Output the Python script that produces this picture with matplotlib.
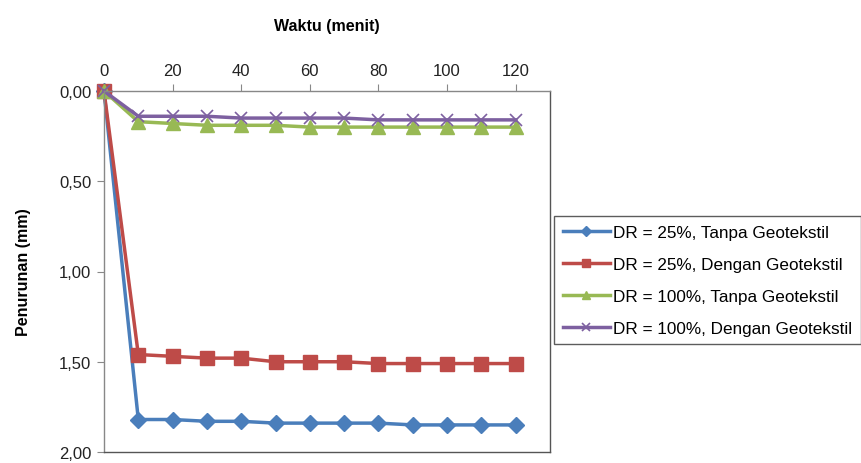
import matplotlib
matplotlib.use('Agg')
import matplotlib.pyplot as plt
from matplotlib.ticker import FuncFormatter

plt.rcParams['font.family'] = ['Liberation Sans', 'DejaVu Sans']

waktu = [0, 10, 20, 30, 40, 50, 60, 70, 80, 90, 100, 110, 120]
dr25_tanpa = [0, 1.82, 1.82, 1.83, 1.83, 1.84, 1.84, 1.84, 1.84, 1.85, 1.85, 1.85, 1.85]
dr25_dengan = [0, 1.46, 1.47, 1.48, 1.48, 1.50, 1.50, 1.50, 1.51, 1.51, 1.51, 1.51, 1.51]
dr100_tanpa = [0, 0.17, 0.18, 0.19, 0.19, 0.19, 0.20, 0.20, 0.20, 0.20, 0.20, 0.20, 0.20]
dr100_dengan = [0, 0.14, 0.14, 0.14, 0.15, 0.15, 0.15, 0.15, 0.16, 0.16, 0.16, 0.16, 0.16]

labels = ['DR = 25%, Tanpa Geotekstil', 'DR = 25%, Dengan Geotekstil',
          'DR = 100%, Tanpa Geotekstil', 'DR = 100%, Dengan Geotekstil']

fig = plt.figure(figsize=(8.62, 4.64), dpi=100)
ax = fig.add_axes([104 / 862, 1 - 453 / 464, 446 / 862, 361 / 464])

l1, = ax.plot(waktu, dr25_tanpa, color='#4A7EBB', lw=2.5, marker='D', ms=8, label=labels[0])
l2, = ax.plot(waktu, dr25_dengan, color='#BE4B48', lw=2.5, marker='s', ms=10, label=labels[1])
l3, = ax.plot(waktu, dr100_tanpa, color='#98B954', lw=2.5, marker='^', ms=10, label=labels[2])
l4, = ax.plot(waktu, dr100_dengan, color='#7D60A0', lw=2.5, marker='x', ms=9, mew=1.2, label=labels[3])
for ln in (l1, l2, l3, l4):
    ln.set_clip_on(False)

ax.set_xlim(0, 130)
ax.set_ylim(2.0, 0.0)
ax.set_xticks(range(0, 121, 20))
ax.set_yticks([0, 0.5, 1.0, 1.5, 2.0])
ax.yaxis.set_major_formatter(FuncFormatter(lambda v, p: f'{v:.2f}'.replace('.', ',')))
ax.xaxis.tick_top()
ax.xaxis.set_label_position('top')
ax.tick_params(axis='both', direction='out', length=5, color='#888888',
               labelsize=12, labelcolor='#222222', pad=4)
for s in ax.spines.values():
    s.set_color('#888888')
    s.set_linewidth(1)
ax.spines['right'].set_color('#555555')
ax.spines['bottom'].set_color('#555555')

ax.set_xlabel('Waktu (menit)', fontsize=11.5, fontweight='bold', labelpad=24)
ax.set_ylabel('Penurunan (mm)', fontsize=11.5, fontweight='bold', labelpad=20)

leg = fig.legend(handles=[l1, l2, l3, l4], loc='upper left',
                 bbox_to_anchor=(554 / 862, 1 - 217 / 464), fontsize=12.3,
                 frameon=True, fancybox=False, edgecolor='#333333',
                 handlelength=2.8, markerscale=0.6, borderpad=0.5, labelspacing=1.0,
                 handletextpad=0.15, borderaxespad=0)
leg.get_frame().set_linewidth(1)

fig.savefig('out.png', dpi=100)
